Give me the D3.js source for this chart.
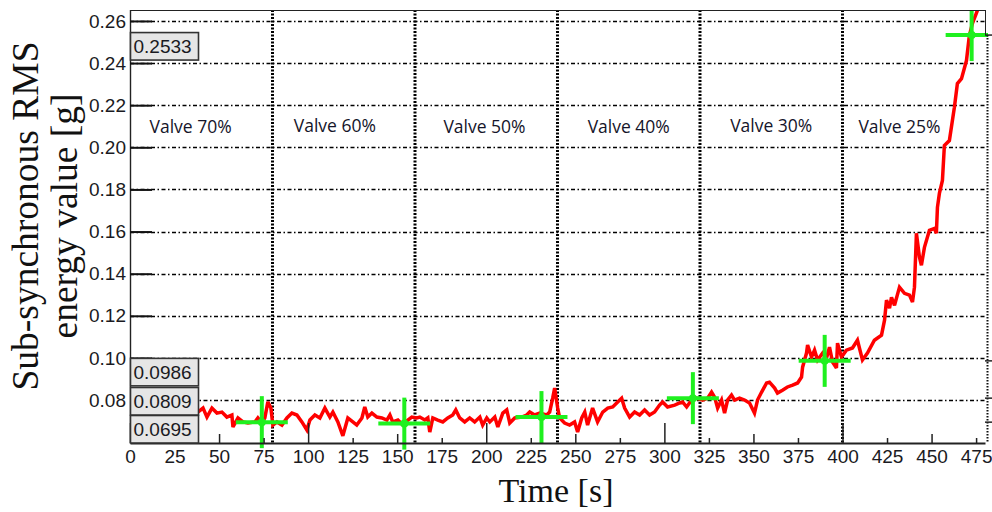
<!DOCTYPE html>
<html>
<head>
<meta charset="utf-8">
<script src="https://cdn.jsdelivr.net/npm/d3@7/dist/d3.min.js"></script>
<style>
  html, body { margin: 0; padding: 0; background: #fff; }
  svg { display: block; }
</style>
</head>
<body>
<svg id="chart" width="992" height="512"></svg>
<script>
// Sub-synchronous RMS energy over time while the valve is closed step by step
const timeS = [
  38.1, 41.0, 43.2, 46.0, 48.8, 51.6, 54.4, 57.2, 57.8, 60.6, 63.4, 66.2, 70.1, 71.8, 74.1, 75.7,
  77.4, 79.1, 80.2, 82.5, 85.3, 88.1, 90.9, 93.7, 96.5, 99.3, 101.0, 103.8, 106.6, 109.4, 112.2,
  113.9, 116.7, 119.5, 122.3, 125.1, 127.3, 130.2, 131.8, 133.5, 135.8, 138.6, 141.4, 144.2, 145.9,
  147.5, 150.4, 153.2, 156.0, 158.2, 161.0, 162.7, 165.5, 167.2, 168.3, 170.0, 172.8, 175.6, 178.4,
  181.2, 182.9, 185.1, 187.9, 190.7, 193.5, 196.4, 198.0, 200.3, 202.0, 204.8, 206.5, 209.3, 211.5,
  213.2, 216.0, 219.9, 222.7, 224.4, 227.2, 230.0, 233.9, 235.6, 237.3, 238.4, 240.1, 241.2, 244.0,
  246.8, 249.6, 251.3, 253.6, 255.3, 256.9, 259.7, 262.5, 265.4, 268.2, 271.0, 273.8, 276.0, 277.7,
  280.5, 283.3, 286.1, 288.9, 291.7, 294.5, 297.3, 299.0, 301.8, 305.8, 308.6, 310.2, 312.5, 315.3,
  318.1, 321.5, 324.3, 326.5, 328.2, 329.9, 332.1, 333.8, 335.5, 337.7, 339.4, 342.2, 345.0, 347.8,
  350.6, 352.3, 354.6, 357.4, 359.0, 361.9, 363.5, 366.3, 369.1, 372.0, 374.8, 377.0, 377.6, 379.8,
  380.4, 382.6, 384.3, 386.0, 388.8, 391.0, 392.7, 394.4, 396.6, 397.2, 399.4, 402.2, 405.6, 408.4,
  411.2, 414.0, 417.9, 421.9, 423.6, 424.7, 426.4, 427.5, 429.2, 432.0, 434.8, 437.6, 439.3, 440.4,
  441.5, 443.2, 444.3, 446.0, 448.8, 451.6, 452.7, 453.3, 454.4, 456.1, 457.2, 460.0, 462.8, 464.5,
  466.8, 469.6, 471.2, 472.9, 475.7, 477.4
];
const rmsG = [
  0.0743, 0.0762, 0.0719, 0.0762, 0.0738, 0.0743, 0.0719, 0.0729, 0.0672, 0.0715, 0.0696, 0.0691, 0.0696, 0.0715, 0.0691, 0.0715,
  0.0791, 0.0762, 0.0681, 0.0696, 0.0681, 0.0715, 0.0738, 0.0729, 0.0696, 0.0658, 0.0705, 0.0729, 0.0715, 0.0762, 0.0719,
  0.0743, 0.0696, 0.0630, 0.0715, 0.0696, 0.0681, 0.0715, 0.0767, 0.0719, 0.0738, 0.0719, 0.0715, 0.0705, 0.0729,
  0.0696, 0.0705, 0.0681, 0.0705, 0.0719, 0.0715, 0.0719, 0.0705, 0.0715, 0.0648, 0.0715, 0.0705, 0.0696, 0.0715,
  0.0729, 0.0753, 0.0715, 0.0696, 0.0715, 0.0696, 0.0719, 0.0681, 0.0715, 0.0696, 0.0719, 0.0672, 0.0738, 0.0753,
  0.0691, 0.0715, 0.0719, 0.0729, 0.0743, 0.0729, 0.0738, 0.0729, 0.0743, 0.0809, 0.0857, 0.0762, 0.0715, 0.0691,
  0.0681, 0.0696, 0.0648, 0.0715, 0.0743, 0.0681, 0.0762, 0.0696, 0.0743, 0.0762, 0.0767, 0.0791, 0.0809, 0.0762,
  0.0719, 0.0743, 0.0729, 0.0753, 0.0729, 0.0743, 0.0776, 0.0791, 0.0767, 0.0776, 0.0786, 0.0791, 0.0767, 0.0800,
  0.0809, 0.0800, 0.0809, 0.0838, 0.0814, 0.0762, 0.0800, 0.0738, 0.0800, 0.0824, 0.0800, 0.0809, 0.0800, 0.0786,
  0.0738, 0.0800, 0.0838, 0.0881, 0.0885, 0.0857, 0.0833, 0.0847, 0.0862, 0.0871, 0.0881, 0.0909, 0.0956, 0.1023,
  0.1061, 0.1004, 0.1037, 0.0990, 0.1023, 0.0999, 0.1051, 0.0980, 0.0952, 0.1070, 0.1004, 0.1037, 0.1047, 0.1084,
  0.0990, 0.1023, 0.1084, 0.1108, 0.1179, 0.1274, 0.1236, 0.1288, 0.1250, 0.1336, 0.1307, 0.1298, 0.1265, 0.1336,
  0.1592, 0.1478, 0.1440, 0.1525, 0.1606, 0.1615, 0.1592, 0.1715, 0.1781, 0.1843, 0.2009, 0.2032, 0.2189, 0.2303,
  0.2326, 0.2412, 0.2530, 0.2587, 0.2649, 0.2696
];

// Stage means (green crosses) and their read-outs
const meanT = [74, 154, 231, 316, 390, 472.5];
const meanG = [0.0695, 0.0688, 0.0719, 0.0809, 0.0986, 0.2533];
const readoutValues = [0.2533, 0.0986, 0.0809, 0.0695];

// Valve opening stages
const stageEdges = [80, 160, 240, 320, 400];
const stageNames = ["Valve 70%", "Valve 60%", "Valve 50%", "Valve 40%", "Valve 30%", "Valve 25%"];
const stageLabelT = [34, 115, 199, 280, 360, 432];
const stageLabelG = [0.2066, 0.2073, 0.2066, 0.2070, 0.2073, 0.2066];

// Axes
const xTicks = d3.range(0, 476, 25);
const yTicks = [0.08, 0.10, 0.12, 0.14, 0.16, 0.18, 0.20, 0.22, 0.24, 0.26];
const xDomain = [0, 480];
const yDomain = [0.0596, 0.2652];

const L = 130, R = 985, T = 10, B = 443;
const svg = d3.select("#chart");
const x = d3.scaleLinear().domain(xDomain).range([L, R]);
const y = d3.scaleLinear().domain(yDomain).range([B, T]);

const defs = svg.append("defs");
defs.append("clipPath").attr("id", "plotClip")
  .append("rect").attr("x", L).attr("y", T).attr("width", R - L).attr("height", B - T);
defs.append("clipPath").attr("id", "crossClip")
  .append("rect").attr("x", L).attr("y", T).attr("width", R - L + 3).attr("height", B - T + 20);

// horizontal dash-dot grid
svg.append("g").selectAll("line").data(yTicks).join("line")
  .attr("x1", L).attr("x2", R)
  .attr("y1", d => Math.round(y(d)) + 0.5).attr("y2", d => Math.round(y(d)) + 0.5)
  .attr("stroke", "#000").attr("stroke-width", 1.6)
  .attr("stroke-dasharray", "4,2.5,1.5,2.5");

// stage boundaries
svg.append("g").selectAll("line").data(stageEdges).join("line")
  .attr("x1", d => x(d)).attr("x2", d => x(d))
  .attr("y1", T).attr("y2", B)
  .attr("stroke", "#000").attr("stroke-width", 3)
  .attr("stroke-dasharray", "2,1.5");

// stage names
svg.append("g").selectAll("text").data(stageNames).join("text")
  .attr("x", (d, i) => x(stageLabelT[i]))
  .attr("y", (d, i) => y(stageLabelG[i]))
  .attr("text-anchor", "middle")
  .attr("font-family", "'Open Sans', sans-serif")
  .attr("font-size", 17.5)
  .attr("fill", "#15152a")
  .text(d => d);

// RMS trace
const series = timeS.map((t, i) => [t, rmsG[i]]);
svg.append("path")
  .datum(series)
  .attr("clip-path", "url(#plotClip)")
  .attr("fill", "none")
  .attr("stroke", "#ff0000")
  .attr("stroke-width", 3.5)
  .attr("stroke-linejoin", "miter")
  .attr("stroke-miterlimit", 3)
  .attr("d", d3.line().x(d => x(d[0])).y(d => y(d[1])));

// mean markers
const arm = 26;
const crosses = svg.append("g").attr("clip-path", "url(#crossClip)")
  .selectAll("g").data(meanT.map((t, i) => [t, meanG[i]])).join("g")
  .attr("transform", d => `translate(${x(d[0])},${y(d[1])})`);
crosses.append("line").attr("x1", -arm).attr("x2", arm).attr("y1", 0).attr("y2", 0)
  .attr("stroke", "#1ff01f").attr("stroke-width", 4);
crosses.append("line").attr("x1", 0).attr("x2", 0).attr("y1", -arm).attr("y2", arm)
  .attr("stroke", "#1ff01f").attr("stroke-width", 4);
crosses.append("circle").attr("r", 4).attr("fill", "#1ff01f");

// frame
svg.append("line").attr("x1", L).attr("x2", R).attr("y1", T + 0.5).attr("y2", T + 0.5)
  .attr("stroke", "#222").attr("stroke-width", 1.2);
svg.append("line").attr("x1", L + 0.5).attr("x2", L + 0.5).attr("y1", T).attr("y2", B)
  .attr("stroke", "#222").attr("stroke-width", 1.4);
svg.append("line").attr("x1", R + 0.5).attr("x2", R + 0.5).attr("y1", T).attr("y2", y(0.2533))
  .attr("stroke", "#222").attr("stroke-width", 1);
svg.append("line").attr("x1", R + 2.5).attr("x2", R + 2.5).attr("y1", y(0.2533)).attr("y2", B)
  .attr("stroke", "#111").attr("stroke-width", 2).attr("stroke-dasharray", "1.5,1.5");
svg.append("g").selectAll("line").data(readoutValues).join("line")
  .attr("x1", R).attr("x2", 992)
  .attr("y1", d => y(d)).attr("y2", d => y(d))
  .attr("stroke", "#222").attr("stroke-width", 1.5);

// x axis
const xAxis = d3.axisBottom(x).tickValues(xTicks).tickFormat(d3.format("d"))
  .tickSizeOuter(0).tickPadding(7);
const gx = svg.append("g").attr("transform", `translate(0,${B})`).call(xAxis);
gx.select(".domain").attr("stroke", "#222").attr("stroke-width", 2);
gx.selectAll(".tick line")
  .attr("y1", 0)
  .attr("y2", d => d % 100 === 0 ? -20 : d % 50 === 0 ? -9 : -5)
  .attr("stroke", "#222").attr("stroke-width", 1.5);
gx.selectAll(".tick text")
  .attr("font-family", "'Liberation Sans', Arial, sans-serif")
  .attr("font-size", 19).attr("fill", "#1a1a22")
  .attr("dy", "0.71em").attr("y", 7);

// y axis
const yAxis = d3.axisLeft(y).tickValues(yTicks).tickFormat(d3.format(".2f"))
  .tickSizeOuter(0).tickSize(0).tickPadding(4);
const gy = svg.append("g").attr("transform", `translate(${L},0)`).call(yAxis);
gy.select(".domain").remove();
gy.selectAll(".tick line").attr("x1", 0).attr("x2", 22)
  .attr("stroke", "#111").attr("stroke-width", 2);
gy.selectAll(".tick text")
  .attr("font-family", "'Liberation Sans', Arial, sans-serif")
  .attr("font-size", 19).attr("fill", "#1a1a22");

// value read-out boxes, stacked upwards from the bottom axis
const boxH = 28, boxW = 68;
const boxes = [];
let limit = B;
readoutValues.slice().sort((a, b) => a - b).forEach(v => {
  const top = Math.min(y(v) - 3, limit - boxH);
  boxes.push({ v, top });
  limit = top;
});
const gb = svg.append("g").selectAll("g").data(boxes).join("g")
  .attr("transform", d => `translate(${L},${d.top})`);
gb.append("rect").attr("x", 0.5).attr("y", 0.5).attr("width", boxW).attr("height", d => Math.min(boxH, B - d.top) - 0.5)
  .attr("fill", "#e6e6e6").attr("stroke", "#333").attr("stroke-width", 1.6);
gb.append("text").attr("x", 3.5).attr("y", boxH / 2 + 7)
  .attr("font-family", "'Liberation Sans', Arial, sans-serif")
  .attr("font-size", 19).attr("fill", "#1a1a22")
  .text(d => d.v.toFixed(4));

// axis titles
svg.append("text")
  .attr("x", 556).attr("y", 502)
  .attr("text-anchor", "middle")
  .attr("font-family", "'Liberation Serif', 'Times New Roman', serif")
  .attr("font-size", 34).attr("fill", "#111")
  .text("Time [s]");
const yt = svg.append("text")
  .attr("transform", "translate(38,216) rotate(-90)")
  .attr("text-anchor", "middle")
  .attr("font-family", "'Liberation Serif', 'Times New Roman', serif")
  .attr("font-size", 37.5).attr("fill", "#111");
yt.append("tspan").attr("x", 0).attr("y", 0).text("Sub-synchronous RMS");
yt.append("tspan").attr("x", 0).attr("y", 39).text("energy value [g]");
</script>
</body>
</html>
